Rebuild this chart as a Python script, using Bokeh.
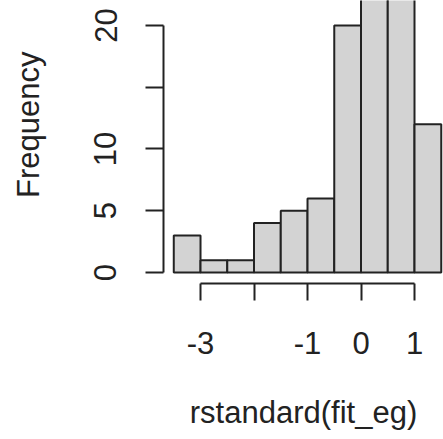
import numpy as np
from bokeh.plotting import figure
from bokeh.models import Range1d, FixedTicker
from bokeh.embed import file_html
from bokeh.resources import INLINE

# Histogram data (bin edges and counts)
bin_left = [-3.5, -3.0, -2.5, -2.0, -1.5, -1.0, -0.5, 0.0, 0.5, 1.0]
bin_right = [-3.0, -2.5, -2.0, -1.5, -1.0, -0.5, 0.0, 0.5, 1.0, 1.5]
counts = [3, 1, 1, 4, 5, 6, 20, 25, 24, 12]

x_ticks = [-3, -2, -1, 0, 1]
x_tick_labels = {-3: "-3", -2: "", -1: "-1", 0: "0", 1: "1"}
y_ticks = [0, 5, 10, 15, 20]
y_tick_labels = {0: "0", 5: "5", 10: "10", 15: "", 20: "20"}

FONT = "Liberation Sans"
FS = "31px"
INK = "#222222"

p = figure(width=443, height=439, output_backend="svg", toolbar_location=None,
           x_range=Range1d(-3.692, 1.542), y_range=Range1d(-0.89, 22.02),
           frame_width=280, frame_height=283,
           min_border=0, min_border_left=163, min_border_bottom=156,
           min_border_top=0, min_border_right=0)

p.quad(left=bin_left, right=bin_right, top=counts, bottom=0,
       fill_color="#D3D3D3", line_color=INK, line_width=2)

p.grid.visible = False
p.outline_line_color = None
p.background_fill_color = "white"
p.border_fill_color = "white"

for ax in (p.xaxis, p.yaxis):
    ax.axis_line_width = 2
    ax.axis_line_color = INK
    ax.major_tick_line_width = 2
    ax.major_tick_line_color = INK
    ax.major_tick_in = 0
    ax.minor_tick_out = 0
    ax.minor_tick_in = 0
    ax.major_label_text_font = FONT
    ax.major_label_text_font_size = FS
    ax.major_label_text_color = INK
    ax.axis_label_text_font = FONT
    ax.axis_label_text_font_size = FS
    ax.axis_label_text_font_style = "normal"
    ax.axis_label_text_color = INK

p.xaxis.ticker = FixedTicker(ticks=x_ticks)
p.xaxis.major_label_overrides = x_tick_labels
p.xaxis.bounds = (-3, 1)
p.xaxis.major_tick_out = 17
p.xaxis.major_label_standoff = 31
p.xaxis.axis_label = "rstandard(fit_eg)"
p.xaxis.axis_label_standoff = 38

p.yaxis.ticker = FixedTicker(ticks=y_ticks)
p.yaxis.major_label_overrides = y_tick_labels
p.yaxis.bounds = (0, 20)
p.yaxis.major_tick_out = 18
p.yaxis.major_label_standoff = 29
p.yaxis.major_label_orientation = "vertical"
# leading no-break spaces move the centred label up to where R put it
p.yaxis.axis_label = "\u00a0\u00a0\u00a0\u00a0Frequency"
p.yaxis.axis_label_standoff = 46

open("out.html", "w").write(file_html(p, INLINE))
